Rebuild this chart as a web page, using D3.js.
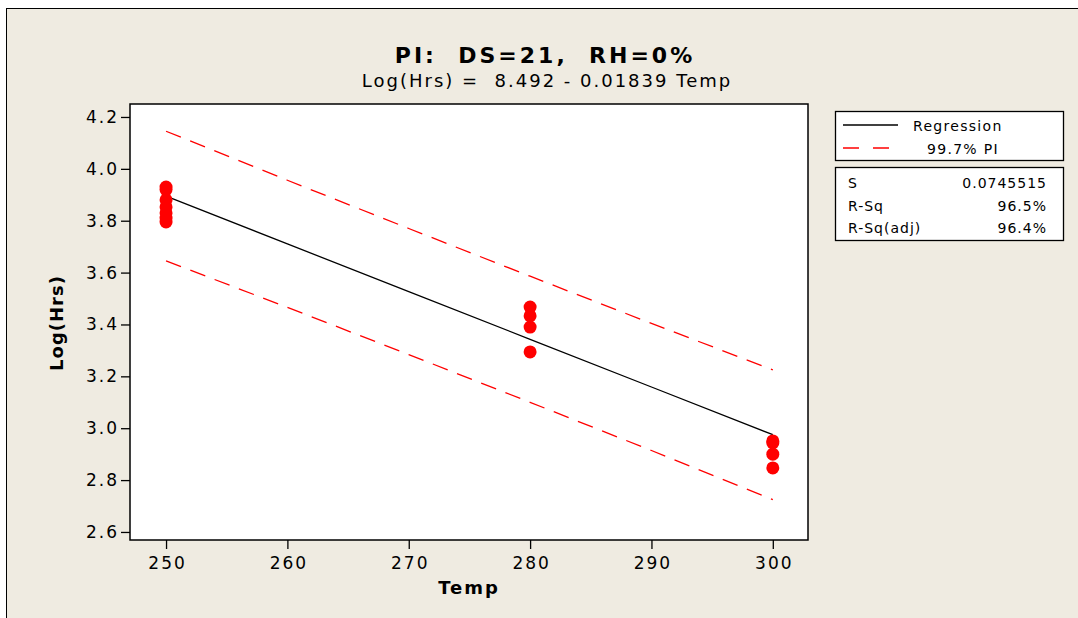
<!DOCTYPE html>
<html>
<head>
<meta charset="utf-8">
<script src="https://cdn.jsdelivr.net/npm/d3@7"></script>
<style>
  html, body { margin: 0; padding: 0; background: #fff; }
  svg text { font-family: "DejaVu Sans", Verdana, sans-serif; fill: #000; white-space: pre; }
</style>
</head>
<body>
<div id="chart"></div>
<script>
const temps250 = [250, 250, 250, 250, 250, 250, 250];
const logHrs250 = [3.93, 3.92, 3.88, 3.853, 3.83, 3.81, 3.795];
const temps280 = [280, 280, 280, 280];
const logHrs280 = [3.467, 3.433, 3.39, 3.294];
const temps300 = [300, 300, 300, 300];
const logHrs300 = [2.951, 2.943, 2.90, 2.847];

// fitted line and 99.7% prediction band
const fitTemps = [250, 260, 270, 280, 290, 300];
const fitValues = [3.8945, 3.7106, 3.5267, 3.3428, 3.1589, 2.975];
const piUpper = [4.145, 3.956, 3.770, 3.586, 3.404, 3.225];
const piLower = [3.645, 3.466, 3.284, 3.100, 2.914, 2.725];

const xTicks = [250, 260, 270, 280, 290, 300];
const yTicks = [2.6, 2.8, 3.0, 3.2, 3.4, 3.6, 3.8, 4.0, 4.2];

const statLabels = ['S', 'R-Sq', 'R-Sq(adj)'];
const statValues = ['0.0745515', '96.5%', '96.4%'];

const width = 1078, height = 618;
const plot = { left: 130, top: 104, right: 808, bottom: 540 };

const svg = d3.select('#chart').append('svg')
    .attr('width', width)
    .attr('height', height);

// frame
svg.append('rect')
    .attr('x', 6.5).attr('y', 8.5)
    .attr('width', width + 20).attr('height', height + 20)
    .attr('fill', '#efebe1')
    .attr('stroke', '#000');

const x = d3.scaleLinear().domain([247.03, 302.9]).range([plot.left, plot.right]);
const y = d3.scaleLinear().domain([2.569, 4.25]).range([plot.bottom, plot.top]);

svg.append('rect')
    .attr('x', plot.left).attr('y', plot.top)
    .attr('width', plot.right - plot.left).attr('height', plot.bottom - plot.top)
    .attr('fill', '#fff')
    .attr('stroke', '#000').attr('stroke-width', 1.5);

// axes
const xAxis = svg.append('g')
    .attr('transform', `translate(0,${plot.bottom})`)
    .call(d3.axisBottom(x).tickValues(xTicks).tickSize(9).tickPadding(8).tickFormat(d3.format('d')));
const yAxis = svg.append('g')
    .attr('transform', `translate(${plot.left},0)`)
    .call(d3.axisLeft(y).tickValues(yTicks).tickSize(9).tickPadding(2).tickFormat(d3.format('.1f')));
[xAxis, yAxis].forEach(g => {
    g.select('.domain').remove();
    g.selectAll('line').attr('stroke', '#000').attr('stroke-width', 1.3);
    g.selectAll('text')
        .style('font-size', '17px')
        .style('letter-spacing', '2px')
        .attr('fill', '#000');
});
xAxis.selectAll('text').attr('dx', 1);

// prediction interval
const line = d3.line()
    .x(d => x(d[0]))
    .y(d => y(d[1]));

[piUpper, piLower].forEach(vals => {
    svg.append('path')
        .datum(fitTemps.map((t, i) => [t, vals[i]]))
        .attr('d', line)
        .attr('fill', 'none')
        .attr('stroke', '#ff0000')
        .attr('stroke-width', 1.3)
        .attr('stroke-dasharray', '16,10');
});

// regression line
svg.append('path')
    .datum(fitTemps.map((t, i) => [t, fitValues[i]]))
    .attr('d', line)
    .attr('fill', 'none')
    .attr('stroke', '#000')
    .attr('stroke-width', 1.3);

// points
const pts = [];
[[temps250, logHrs250], [temps280, logHrs280], [temps300, logHrs300]].forEach(([ts, vs]) => {
    ts.forEach((t, i) => pts.push([t, vs[i]]));
});
svg.append('g').selectAll('circle')
    .data(pts)
    .join('circle')
    .attr('cx', d => x(d[0]))
    .attr('cy', d => y(d[1]))
    .attr('r', 6.5)
    .attr('fill', '#ff0000');

// titles
svg.append('text')
    .attr('x', 545).attr('y', 63)
    .attr('text-anchor', 'middle')
    .style('font-size', '22px').style('font-weight', 'bold')
    .style('letter-spacing', '3px')
    .text('PI:  DS=21,  RH=0%');
svg.append('text')
    .attr('x', 547).attr('y', 87)
    .attr('text-anchor', 'middle')
    .style('font-size', '18px')
    .style('letter-spacing', '2px')
    .text('Log(Hrs) =  8.492 - 0.01839 Temp');

svg.append('text')
    .attr('x', 469).attr('y', 594)
    .attr('text-anchor', 'middle')
    .style('font-size', '18px').style('font-weight', 'bold')
    .style('letter-spacing', '2px')
    .text('Temp');
svg.append('text')
    .attr('transform', 'translate(63,323) rotate(-90)')
    .attr('text-anchor', 'middle')
    .style('font-size', '18px').style('font-weight', 'bold')
    .style('letter-spacing', '1px')
    .text('Log(Hrs)');

// legend
const legend = svg.append('g');
legend.append('rect')
    .attr('x', 835.5).attr('y', 111.5).attr('width', 228).attr('height', 49)
    .attr('fill', '#fff').attr('stroke', '#000').attr('stroke-width', 1.3);
legend.append('line')
    .attr('x1', 843).attr('x2', 898).attr('y1', 125).attr('y2', 125)
    .attr('stroke', '#000').attr('stroke-width', 1.3);
legend.append('line')
    .attr('x1', 843).attr('x2', 898).attr('y1', 148).attr('y2', 148)
    .attr('stroke', '#ff0000').attr('stroke-width', 1.3)
    .attr('stroke-dasharray', '16,14');
legend.append('text').attr('x', 913).attr('y', 131)
    .style('font-size', '14px').style('letter-spacing', '1.3px').text('Regression');
legend.append('text').attr('x', 927).attr('y', 154)
    .style('font-size', '14px').style('letter-spacing', '1.3px').text('99.7% PI');

legend.append('rect')
    .attr('x', 835.5).attr('y', 167.5).attr('width', 228).attr('height', 73)
    .attr('fill', '#fff').attr('stroke', '#000').attr('stroke-width', 1.3);
statLabels.forEach((s, i) => {
    legend.append('text').attr('x', 848).attr('y', 188 + i * 22.5)
        .style('font-size', '14px').style('letter-spacing', '1px').text(s);
    legend.append('text').attr('x', 1047).attr('y', 188 + i * 22.5)
        .attr('text-anchor', 'end')
        .style('font-size', '14px').style('letter-spacing', '1px').text(statValues[i]);
});
</script>
</body>
</html>
